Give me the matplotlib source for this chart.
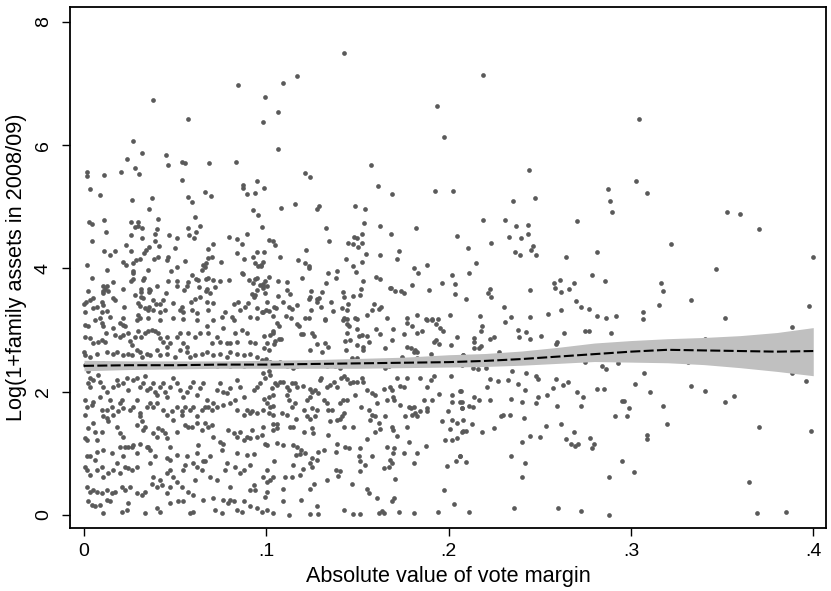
import matplotlib
matplotlib.use("Agg")
import matplotlib.pyplot as plt
import numpy as np

plt.rcParams['font.family'] = ['Liberation Sans', 'DejaVu Sans']

# (vote margin, log assets) pairs
pts_top = [
    (0.0843, 6.98), (0.1090, 7.00), (0.1167, 7.12), (0.1426, 7.50), (0.2190, 7.14),
]

# x < .1, upper part
pts_left_upper = [
    (0.0381, 6.73), (0.0573, 6.42), (0.0271, 6.06), (0.0318, 5.87), (0.0236, 5.78),
    (0.0452, 5.84), (0.0461, 5.67), (0.0278, 5.63), (0.0302, 5.53), (0.0201, 5.56),
    (0.0112, 5.52), (0.0016, 5.57), (0.0016, 5.50), (0.0538, 5.72), (0.0554, 5.71),
    (0.0686, 5.71), (0.0833, 5.73), (0.0035, 5.29), (0.0088, 5.19), (0.0262, 5.11),
    (0.0373, 5.14), (0.0359, 4.96), (0.0540, 5.43), (0.0573, 5.16), (0.0595, 5.07),
    (0.0666, 5.24), (0.0699, 5.17), (0.0611, 4.84), (0.0874, 5.36), (0.0871, 5.30),
    (0.0893, 5.20), (0.0939, 5.22), (0.0948, 5.42), (0.0926, 4.95), (0.0952, 4.86),
    (0.0027, 4.75), (0.0046, 4.72), (0.0108, 4.78), (0.0121, 4.59), (0.0042, 4.45),
    (0.0256, 4.75), (0.0280, 4.67), (0.0298, 4.75), (0.0320, 4.66), (0.0298, 4.68),
    (0.0404, 4.80), (0.0401, 4.64), (0.0391, 4.55), (0.0256, 4.54), (0.0320, 4.50),
    (0.0466, 4.54), (0.0510, 4.50), (0.0573, 4.66), (0.0576, 4.54), (0.0604, 4.50),
    (0.0615, 4.59), (0.0635, 4.69), (0.0391, 4.44), (0.0413, 4.36), (0.0498, 4.33),
    (0.0229, 4.38), (0.0260, 4.28), (0.0355, 4.34), (0.0342, 4.30), (0.0329, 4.25),
    (0.0110, 4.28), (0.0143, 4.22), (0.0170, 4.28), (0.0018, 4.05), (0.0044, 3.85),
    (0.0128, 3.97), (0.0214, 4.11), (0.0230, 4.06), (0.0267, 4.08), (0.0287, 4.14),
    (0.0307, 4.16), (0.0271, 3.95), (0.0271, 3.92), (0.0353, 3.97), (0.0384, 4.15),
    (0.0408, 4.18), (0.0459, 4.19), (0.0454, 4.13), (0.0477, 3.95), (0.0509, 4.03),
    (0.0554, 4.12), (0.0681, 4.32), (0.0706, 4.39), (0.0682, 4.17), (0.0700, 4.19),
    (0.0651, 4.05), (0.0670, 4.08), (0.0750, 4.10), (0.0798, 4.51), (0.0838, 4.48),
    (0.0867, 4.39), (0.0896, 4.55), (0.0838, 4.25), (0.0875, 4.15), (0.0926, 4.18),
    (0.0948, 4.26), (0.0939, 4.08), (0.0957, 4.04), (0.0972, 4.05), (0.0022, 3.63),
    (0.0047, 3.52), (0.0033, 3.48), (0.0011, 3.45), (0.0000, 3.43), (0.0097, 3.46),
    (0.0106, 3.41), (0.0069, 3.38), (0.0051, 3.36), (0.0005, 3.29), (0.0101, 3.30),
    (0.0124, 3.31), (0.0088, 3.19), (0.0106, 3.71), (0.0106, 3.64), (0.0115, 3.66),
    (0.0124, 3.71), (0.0133, 3.64), (0.0106, 3.60), (0.0157, 3.78), (0.0216, 3.67),
    (0.0170, 3.49), (0.0161, 3.52), (0.0221, 3.37), (0.0258, 3.79), (0.0267, 3.83),
    (0.0280, 3.57), (0.0313, 3.62), (0.0313, 3.67), (0.0313, 3.54), (0.0322, 3.52),
    (0.0329, 3.84), (0.0322, 3.82), (0.0298, 3.44), (0.0307, 3.39), (0.0355, 3.66),
    (0.0359, 3.61), (0.0362, 3.65), (0.0335, 3.35), (0.0353, 3.33), (0.0359, 3.38),
    (0.0298, 3.25), (0.0307, 3.19), (0.0399, 3.71), (0.0381, 3.49), (0.0395, 3.42),
    (0.0417, 3.43), (0.0435, 3.49), (0.0381, 3.33), (0.0417, 3.30), (0.0445, 3.33),
    (0.0450, 3.60), (0.0463, 3.79), (0.0510, 3.79), (0.0510, 3.72), (0.0490, 3.44),
    (0.0527, 3.33), (0.0536, 3.38), (0.0545, 3.29), (0.0551, 3.65), (0.0564, 3.71),
    (0.0573, 3.78), (0.0591, 3.90), (0.0615, 3.83), (0.0628, 3.82), (0.0587, 3.45),
    (0.0609, 3.50), (0.0591, 3.33), (0.0618, 3.27), (0.0633, 3.70), (0.0637, 3.54),
    (0.0670, 3.63), (0.0677, 3.66), (0.0692, 3.60), (0.0670, 3.83), (0.0682, 3.84),
    (0.0646, 3.98), (0.0664, 4.03), (0.0682, 3.33), (0.0673, 3.45), (0.0706, 3.82),
    (0.0721, 3.70), (0.0710, 3.44), (0.0746, 3.79), (0.0755, 3.22), (0.0774, 3.29),
    (0.0798, 3.81), (0.0820, 3.43), (0.0847, 3.46), (0.0865, 3.92), (0.0874, 3.91),
    (0.0856, 3.33), (0.0883, 3.38), (0.0907, 3.82), (0.0926, 3.76), (0.0939, 3.83),
    (0.0948, 3.84), (0.0920, 3.59), (0.0939, 3.57), (0.0930, 3.54), (0.0902, 3.44),
    (0.0948, 3.65), (0.0966, 3.73), (0.0981, 3.71), (0.0948, 3.35), (0.0975, 3.30),
    (0.0911, 3.22), (0.0948, 3.20), (0.0811, 3.22), (0.0820, 3.17), (0.0618, 3.17),
    (0.0545, 3.18), (0.0490, 3.19), (0.0417, 3.17), (0.0353, 3.19), (0.0289, 3.17),
    (0.0216, 3.19), (0.0143, 3.22),
]

# x < .1, lower part
pts_left_lower = [
    (0.0005, 3.08), (0.0024, 3.06), (0.0060, 3.17), (0.0097, 3.11), (0.0106, 3.06),
    (0.0005, 2.89), (0.0033, 2.87), (0.0051, 2.79), (0.0079, 2.81), (0.0097, 2.84),
    (0.0115, 2.81), (0.0121, 2.95), (0.0161, 3.03), (0.0170, 2.92), (0.0198, 3.11),
    (0.0212, 3.08), (0.0225, 3.06), (0.0198, 2.89), (0.0212, 2.92), (0.0243, 2.95),
    (0.0252, 2.83), (0.0262, 2.76), (0.0280, 2.89), (0.0298, 2.98), (0.0313, 2.89),
    (0.0335, 2.95), (0.0353, 2.98), (0.0371, 3.00), (0.0390, 2.98), (0.0408, 2.95),
    (0.0417, 2.87), (0.0435, 2.81), (0.0454, 2.89), (0.0454, 2.73), (0.0472, 2.79),
    (0.0509, 2.89), (0.0527, 2.95), (0.0545, 2.79), (0.0564, 2.73), (0.0573, 2.95),
    (0.0609, 2.89), (0.0637, 2.95), (0.0673, 3.06), (0.0682, 2.95), (0.0701, 2.79),
    (0.0710, 3.17), (0.0728, 2.89), (0.0747, 2.81), (0.0765, 3.03), (0.0783, 2.79),
    (0.0801, 2.79), (0.0829, 2.95), (0.0838, 2.81), (0.0865, 3.00), (0.0893, 2.95),
    (0.0911, 2.81), (0.0939, 2.79),
    (0.0000, 2.65), (0.0005, 2.60), (0.0033, 2.57), (0.0069, 2.62), (0.0124, 2.65),
    (0.0161, 2.62), (0.0179, 2.65), (0.0216, 2.60), (0.0243, 2.62), (0.0262, 2.60),
    (0.0289, 2.68), (0.0307, 2.65), (0.0316, 2.57), (0.0344, 2.62), (0.0362, 2.60),
    (0.0399, 2.68), (0.0417, 2.60), (0.0454, 2.62), (0.0500, 2.57), (0.0527, 2.68),
    (0.0564, 2.65), (0.0582, 2.57), (0.0609, 2.60), (0.0646, 2.62), (0.0673, 2.64),
    (0.0710, 2.60), (0.0747, 2.62), (0.0783, 2.57), (0.0801, 2.65), (0.0838, 2.62),
    (0.0875, 2.60), (0.0911, 2.62), (0.0948, 2.57),
    (0.0005, 2.44), (0.0033, 2.42), (0.0069, 2.44), (0.0106, 2.46), (0.0143, 2.41),
    (0.0179, 2.44), (0.0225, 2.45), (0.0252, 2.42), (0.0289, 2.44), (0.0335, 2.45),
    (0.0371, 2.42), (0.0399, 2.44), (0.0445, 2.41), (0.0472, 2.44), (0.0500, 2.44),
    (0.0545, 2.42), (0.0582, 2.44), (0.0618, 2.45), (0.0655, 2.41), (0.0692, 2.44),
    (0.0728, 2.42), (0.0765, 2.44), (0.0801, 2.41), (0.0838, 2.44), (0.0875, 2.41),
    (0.0911, 2.46),
    (0.0024, 2.33), (0.0033, 2.22), (0.0024, 2.14), (0.0033, 2.08), (0.0051, 2.19),
    (0.0079, 2.27), (0.0088, 2.16), (0.0106, 2.08), (0.0124, 2.00), (0.0161, 2.08),
    (0.0179, 2.19), (0.0188, 2.11), (0.0216, 2.14), (0.0234, 2.22), (0.0243, 2.03),
    (0.0271, 2.19), (0.0289, 2.22), (0.0307, 2.08), (0.0326, 2.14), (0.0335, 2.25),
    (0.0344, 2.03), (0.0362, 2.06), (0.0381, 2.14), (0.0390, 2.00), (0.0399, 1.95),
    (0.0417, 2.08), (0.0435, 2.14), (0.0445, 2.00), (0.0454, 1.92), (0.0472, 2.08),
    (0.0490, 2.22), (0.0509, 2.14), (0.0527, 2.03), (0.0545, 1.92), (0.0564, 2.00),
    (0.0582, 2.08), (0.0600, 2.16), (0.0618, 1.95), (0.0637, 2.06), (0.0655, 2.14),
    (0.0673, 1.87), (0.0682, 1.76), (0.0701, 1.70), (0.0710, 1.81), (0.0728, 2.03),
    (0.0747, 2.14), (0.0765, 2.00), (0.0783, 1.98), (0.0801, 2.06), (0.0829, 1.87),
    (0.0838, 2.19), (0.0856, 2.08), (0.0875, 1.92), (0.0893, 1.70), (0.0920, 1.68),
    (0.0930, 2.03), (0.0948, 2.08), (0.0966, 2.14),
    (0.0005, 1.87), (0.0015, 1.76), (0.0042, 1.79), (0.0051, 1.84), (0.0088, 1.92),
    (0.0097, 1.70), (0.0124, 1.70), (0.0143, 1.87), (0.0152, 1.76), (0.0161, 1.62),
    (0.0188, 1.68), (0.0198, 1.81), (0.0207, 1.87), (0.0216, 1.73), (0.0252, 1.70),
    (0.0271, 1.76), (0.0289, 1.87), (0.0307, 1.65), (0.0344, 1.76), (0.0362, 1.81),
    (0.0381, 1.76), (0.0399, 1.81), (0.0435, 1.70), (0.0454, 1.62), (0.0481, 1.68),
    (0.0509, 1.76), (0.0536, 1.68), (0.0554, 1.76), (0.0582, 1.70), (0.0600, 1.76),
    (0.0618, 1.60), (0.0646, 1.70), (0.0664, 1.76), (0.0728, 1.76), (0.0765, 1.79),
    (0.0801, 1.81), (0.0838, 1.70), (0.0875, 1.62), (0.0911, 1.65), (0.0948, 1.65),
    (0.0005, 1.62), (0.0024, 1.41), (0.0005, 1.25), (0.0015, 1.22), (0.0051, 1.49),
    (0.0060, 1.35), (0.0069, 1.22), (0.0097, 1.35), (0.0106, 1.60), (0.0124, 1.57),
    (0.0133, 1.52), (0.0179, 1.43), (0.0198, 1.33), (0.0216, 1.27), (0.0225, 1.11),
    (0.0243, 1.11), (0.0262, 1.11), (0.0271, 1.14), (0.0289, 1.46), (0.0307, 1.60),
    (0.0316, 1.52), (0.0326, 1.38), (0.0335, 1.43), (0.0344, 1.11), (0.0362, 1.06),
    (0.0381, 1.33), (0.0399, 1.27), (0.0408, 1.41), (0.0426, 1.38), (0.0445, 1.33),
    (0.0454, 1.25), (0.0472, 1.11), (0.0490, 1.54), (0.0509, 1.35), (0.0536, 1.62),
    (0.0554, 1.46), (0.0573, 1.43), (0.0591, 1.43), (0.0618, 1.49), (0.0628, 1.14),
    (0.0646, 1.38), (0.0664, 1.49), (0.0682, 1.43), (0.0701, 1.46), (0.0710, 1.27),
    (0.0747, 1.19), (0.0765, 1.16), (0.0792, 1.38), (0.0820, 1.33), (0.0838, 1.27),
    (0.0856, 1.35), (0.0875, 1.22), (0.0893, 1.27), (0.0911, 1.25), (0.0920, 1.38),
    (0.0948, 1.27),
    (0.0015, 0.95), (0.0033, 0.95), (0.0069, 1.03), (0.0106, 1.06), (0.0152, 1.00),
    (0.0198, 1.11), (0.0216, 0.95), (0.0289, 1.00), (0.0307, 1.16), (0.0353, 1.11),
    (0.0390, 0.95), (0.0454, 0.92), (0.0472, 0.89), (0.0509, 0.97), (0.0564, 0.95),
    (0.0618, 1.00), (0.0655, 0.87), (0.0692, 0.95), (0.0756, 1.06), (0.0783, 0.84),
    (0.0838, 1.00), (0.0893, 0.97), (0.0930, 0.99),
    (0.0005, 0.78), (0.0015, 0.73), (0.0033, 0.65), (0.0060, 0.89), (0.0069, 0.73),
    (0.0097, 0.78), (0.0106, 0.62), (0.0133, 0.68), (0.0161, 0.73), (0.0179, 0.84),
    (0.0198, 0.68), (0.0225, 0.78), (0.0243, 0.76), (0.0262, 0.73), (0.0289, 0.78),
    (0.0362, 0.84), (0.0371, 0.51), (0.0381, 0.62), (0.0417, 0.57), (0.0426, 0.49),
    (0.0454, 0.68), (0.0472, 0.73), (0.0490, 0.62), (0.0545, 0.73), (0.0554, 0.81),
    (0.0600, 0.84), (0.0609, 0.57), (0.0618, 0.78), (0.0646, 0.73), (0.0664, 0.87),
    (0.0692, 0.62), (0.0728, 0.57), (0.0774, 0.73), (0.0801, 0.46), (0.0829, 0.78),
    (0.0856, 0.68), (0.0875, 0.73), (0.0911, 0.81), (0.0930, 0.49), (0.0939, 0.41),
    (0.0015, 0.46), (0.0033, 0.38), (0.0051, 0.41), (0.0069, 0.38), (0.0097, 0.35),
    (0.0124, 0.41), (0.0152, 0.35), (0.0170, 0.38), (0.0207, 0.46), (0.0225, 0.41),
    (0.0252, 0.46), (0.0289, 0.35), (0.0335, 0.38), (0.0399, 0.46), (0.0454, 0.35),
    (0.0472, 0.46), (0.0509, 0.54), (0.0536, 0.46), (0.0573, 0.38), (0.0600, 0.33),
    (0.0655, 0.24), (0.0710, 0.27), (0.0765, 0.24), (0.0792, 0.19), (0.0820, 0.22),
    (0.0875, 0.22), (0.0911, 0.41),
    (0.0024, 0.22), (0.0042, 0.16), (0.0060, 0.14), (0.0088, 0.16), (0.0106, 0.03),
    (0.0124, 0.24), (0.0143, 0.22), (0.0207, 0.05), (0.0234, 0.08), (0.0243, 0.19),
    (0.0316, 0.33), (0.0335, 0.03), (0.0399, 0.11), (0.0417, 0.05), (0.0472, 0.19),
    (0.0518, 0.22), (0.0545, 0.22), (0.0582, 0.03), (0.0600, 0.05), (0.0719, 0.08),
    (0.0756, 0.03), (0.0801, 0.24), (0.0838, 0.08), (0.0865, 0.05), (0.0911, 0.14),
    (0.0948, 0.11),
]

# .1 < x < .2, upper part
pts_mid_upper = [
    (0.0995, 6.78), (0.1062, 6.54), (0.0980, 6.37), (0.1064, 5.94), (0.1938, 6.63),
    (0.1977, 6.13), (0.1214, 5.55), (0.1240, 5.49), (0.1573, 5.67), (0.0986, 5.30),
    (0.1613, 5.33), (0.1688, 5.21), (0.1927, 5.25), (0.2026, 5.26), (0.1079, 4.98),
    (0.1159, 5.04), (0.1280, 4.97), (0.1291, 5.01), (0.1485, 5.02), (0.1540, 4.97),
    (0.0978, 4.67), (0.1328, 4.65), (0.1534, 4.74), (0.1626, 4.68), (0.1823, 4.66),
    (0.2044, 4.53), (0.1013, 4.46), (0.1035, 4.44), (0.1050, 4.38), (0.1346, 4.45),
    (0.1479, 4.51), (0.1496, 4.50), (0.1523, 4.56), (0.1450, 4.42), (0.1476, 4.39),
    (0.1501, 4.35), (0.1523, 4.42), (0.1682, 4.56), (0.0989, 4.26), (0.0984, 4.11),
    (0.0971, 4.04), (0.1073, 4.18), (0.1176, 4.13), (0.1211, 4.09), (0.1220, 4.30),
    (0.1234, 4.04), (0.1236, 4.01), (0.1437, 4.16), (0.1476, 4.04), (0.1523, 4.11),
    (0.1547, 4.23), (0.1624, 4.22), (0.1726, 4.28), (0.1715, 4.16), (0.1879, 4.05),
    (0.1808, 4.01), (0.1832, 3.92), (0.2020, 3.89), (0.1336, 3.93), (0.1388, 3.95),
    (0.1492, 3.94), (0.1382, 3.85), (0.1198, 3.85), (0.1015, 3.86), (0.0995, 3.79),
    (0.0982, 3.75), (0.1002, 3.72), (0.0980, 3.69), (0.1066, 3.80), (0.1112, 3.78),
    (0.1325, 3.76), (0.1532, 3.80), (0.1602, 3.86), (0.1622, 3.83), (0.1679, 3.69),
    (0.1684, 3.69), (0.1708, 3.63), (0.1741, 3.63), (0.1754, 3.60), (0.1797, 3.73),
    (0.1965, 3.76), (0.2037, 3.75), (0.1894, 3.65), (0.2037, 3.59), (0.0993, 3.60),
    (0.1064, 3.56), (0.1115, 3.65), (0.1132, 3.59), (0.1244, 3.64), (0.1308, 3.62),
    (0.1232, 3.50), (0.1240, 3.54), (0.1280, 3.51), (0.1291, 3.52), (0.1276, 3.45),
    (0.1298, 3.38), (0.1423, 3.62), (0.1428, 3.54), (0.1477, 3.56), (0.1514, 3.57),
    (0.1521, 3.66), (0.1353, 3.45), (0.1450, 3.43), (0.1591, 3.43), (0.1006, 3.45),
    (0.1092, 3.46), (0.1041, 3.37), (0.1055, 3.36), (0.1126, 3.37), (0.1139, 3.34),
    (0.1168, 3.40), (0.1244, 3.33), (0.1368, 3.31), (0.1417, 3.35), (0.1444, 3.32),
    (0.1578, 3.33), (0.1620, 3.34), (0.1629, 3.38), (0.0982, 3.29), (0.0998, 3.32),
    (0.1015, 3.31), (0.1039, 3.23), (0.1108, 3.23), (0.1136, 3.19), (0.1214, 3.20),
    (0.1236, 3.20), (0.1324, 3.18), (0.1424, 3.20), (0.1444, 3.18), (0.1485, 3.19),
    (0.1499, 3.18), (0.1551, 3.24), (0.1660, 3.20), (0.1770, 3.20), (0.1827, 3.25),
    (0.1876, 3.18), (0.1907, 3.18), (0.1940, 3.18), (0.2008, 3.24),
]

# .1 < x < .2, lower part
pts_mid_lower = [
    (0.1061, 3.11), (0.1072, 3.07), (0.1036, 2.99), (0.1021, 2.92), (0.0988, 2.91),
    (0.1039, 2.95), (0.1048, 2.83), (0.1067, 2.86), (0.1079, 2.85), (0.1006, 2.79),
    (0.1043, 2.78), (0.0990, 2.71), (0.1012, 2.67), (0.1167, 3.10), (0.1182, 3.07),
    (0.1200, 2.94), (0.1189, 2.94), (0.1250, 2.96), (0.1259, 2.91), (0.1241, 2.67),
    (0.1323, 3.17), (0.1420, 3.17), (0.1442, 3.10), (0.1451, 3.07), (0.1445, 2.95),
    (0.1497, 3.01), (0.1506, 2.91), (0.1524, 2.92), (0.1552, 2.91), (0.1561, 2.81),
    (0.1533, 2.73), (0.1530, 2.68), (0.1497, 2.76), (0.1460, 2.84), (0.1429, 2.82),
    (0.1438, 2.67), (0.1323, 2.79), (0.1341, 2.73), (0.1305, 2.64), (0.1277, 2.78),
    (0.1603, 3.01), (0.1625, 2.94), (0.1652, 2.71), (0.1689, 2.84), (0.1694, 3.01),
    (0.1757, 2.93), (0.1771, 3.11), (0.1799, 3.07), (0.1826, 2.95), (0.1854, 2.98),
    (0.1881, 3.17), (0.1908, 3.16), (0.1932, 3.10), (0.1954, 3.03), (0.1967, 2.98),
    (0.1918, 2.81), (0.1932, 2.84), (0.1945, 2.78), (0.2015, 2.75), (0.2046, 2.88),
    (0.1903, 2.62), (0.1817, 2.68), (0.1808, 2.65), (0.1793, 2.71), (0.1826, 2.65),
    (0.1771, 2.73), (0.1749, 2.53),
    (0.0975, 2.52), (0.0999, 2.53), (0.1021, 2.49), (0.1048, 2.46), (0.1076, 2.49),
    (0.1094, 2.44), (0.1112, 2.41), (0.1149, 2.38), (0.1167, 2.41), (0.1204, 2.44),
    (0.1259, 2.47), (0.1295, 2.49), (0.1332, 2.41), (0.1378, 2.41), (0.1405, 2.38),
    (0.1424, 2.46), (0.1469, 2.54), (0.1497, 2.54), (0.1515, 2.46), (0.1552, 2.46),
    (0.1597, 2.47), (0.1625, 2.49), (0.1652, 2.39), (0.1671, 2.41), (0.1698, 2.46),
    (0.1744, 2.56), (0.1771, 2.52), (0.1826, 2.54), (0.1844, 2.46), (0.1918, 2.49),
    (0.1982, 2.52), (0.2009, 2.46), (0.2079, 2.60),
    (0.0984, 2.30), (0.0993, 2.22), (0.1012, 2.33), (0.1021, 2.27), (0.1030, 2.06),
    (0.1048, 2.14), (0.1061, 2.11), (0.1076, 2.16), (0.1090, 2.15), (0.1112, 2.07),
    (0.1122, 2.03), (0.1140, 2.14), (0.1158, 2.14), (0.1167, 2.08), (0.1200, 2.09),
    (0.1241, 2.04), (0.1250, 2.00), (0.1268, 2.03), (0.1286, 1.98), (0.1299, 2.23),
    (0.1295, 2.19), (0.1332, 2.07), (0.1350, 2.11), (0.1369, 2.16), (0.1387, 2.08),
    (0.1411, 2.22), (0.1424, 2.25), (0.1442, 2.20), (0.1460, 2.14), (0.1478, 2.15),
    (0.1497, 2.16), (0.1524, 2.22), (0.1533, 2.16), (0.1552, 2.03), (0.1579, 1.98),
    (0.1597, 1.95), (0.1643, 2.04), (0.1680, 2.08), (0.1689, 2.03), (0.1716, 2.22),
    (0.1731, 2.09), (0.1757, 2.08), (0.1771, 2.22), (0.1841, 2.22), (0.1881, 2.08),
    (0.1903, 2.19), (0.1918, 2.25), (0.1949, 1.96), (0.2015, 2.25), (0.2018, 1.95),
    (0.2064, 2.01),
    (0.0988, 1.89), (0.1012, 1.92), (0.1039, 1.95), (0.1003, 1.81), (0.1021, 1.76),
    (0.1036, 1.77), (0.1112, 1.95), (0.1122, 1.87), (0.1140, 1.76), (0.1158, 1.81),
    (0.1204, 1.70), (0.1222, 1.87), (0.1237, 1.92), (0.1250, 1.73), (0.1277, 1.70),
    (0.1314, 1.87), (0.1332, 1.81), (0.1341, 1.70), (0.1359, 1.70), (0.1405, 1.81),
    (0.1420, 1.87), (0.1442, 1.87), (0.1488, 1.95), (0.1520, 1.75), (0.1561, 1.70),
    (0.1607, 1.81), (0.1661, 1.87), (0.1694, 1.92), (0.1698, 1.87), (0.1735, 1.79),
    (0.1780, 1.76), (0.1793, 1.73), (0.1808, 1.76), (0.1817, 1.65), (0.1841, 1.68),
    (0.1863, 1.87), (0.1881, 1.73), (0.1881, 1.68), (0.1908, 1.87), (0.1996, 1.68),
    (0.2018, 1.84), (0.2064, 1.84), (0.2073, 1.73),
    (0.0984, 1.70), (0.1012, 1.65), (0.1039, 1.62), (0.1085, 1.65), (0.1112, 1.62),
    (0.1164, 1.56), (0.1222, 1.60), (0.1237, 1.55), (0.1268, 1.60), (0.1350, 1.52),
    (0.1387, 1.54), (0.1405, 1.56), (0.1414, 1.60), (0.1427, 1.65), (0.1579, 1.62),
    (0.1597, 1.60), (0.1570, 1.54), (0.1616, 1.49), (0.1652, 1.61), (0.1762, 1.60),
    (0.1799, 1.62), (0.1826, 1.60), (0.1963, 1.52), (0.2018, 1.54), (0.2046, 1.49),
    (0.2073, 1.35),
    (0.0981, 1.43), (0.1039, 1.48), (0.1058, 1.48), (0.1036, 1.38), (0.1058, 1.41),
    (0.1131, 1.42), (0.1149, 1.42), (0.1204, 1.34), (0.1253, 1.41), (0.1255, 1.33),
    (0.1341, 1.30), (0.1424, 1.43), (0.1475, 1.42), (0.1597, 1.34), (0.1621, 1.40),
    (0.1689, 1.43), (0.1694, 1.38), (0.1716, 1.29), (0.1771, 1.43), (0.2009, 1.39),
    (0.2046, 1.25),
    (0.0975, 1.30), (0.0993, 1.16), (0.1003, 1.14), (0.1058, 1.17), (0.1090, 1.13),
    (0.1149, 1.14), (0.1167, 1.11), (0.1164, 0.97), (0.1186, 0.99), (0.1213, 1.00),
    (0.1189, 1.06), (0.1250, 0.92), (0.1277, 0.89), (0.1286, 1.03), (0.1314, 1.06),
    (0.1387, 1.15), (0.1383, 1.03), (0.1433, 1.11), (0.1451, 1.08), (0.1515, 1.08),
    (0.1552, 1.23), (0.1506, 0.96), (0.1515, 0.87), (0.1542, 0.81), (0.1579, 0.96),
    (0.1661, 1.11), (0.1698, 1.08), (0.1694, 1.00), (0.1680, 0.90), (0.1689, 0.84),
    (0.1671, 0.78), (0.1647, 0.77), (0.1753, 1.00), (0.1780, 1.19), (0.1826, 1.00),
    (0.1808, 0.85), (0.1877, 1.12), (0.1982, 1.21), (0.2018, 1.21), (0.2060, 0.95),
    (0.2042, 0.88), (0.1991, 0.80),
    (0.1003, 0.73), (0.1043, 0.87), (0.0984, 0.62), (0.1003, 0.54), (0.1021, 0.57),
    (0.1036, 0.61), (0.1103, 0.62), (0.1140, 0.62), (0.1149, 0.81), (0.1186, 0.65),
    (0.1200, 0.74), (0.1241, 0.84), (0.1250, 0.78), (0.1241, 0.43), (0.1259, 0.50),
    (0.1332, 0.57), (0.1383, 0.73), (0.1405, 0.72), (0.1391, 0.63), (0.1469, 0.51),
    (0.1515, 0.72), (0.1552, 0.43), (0.1561, 0.35), (0.1707, 0.58), (0.1607, 0.28),
    (0.1689, 0.22), (0.1698, 0.27), (0.1973, 0.41), (0.2027, 0.18),
    (0.0975, 0.05), (0.1003, 0.09), (0.1039, 0.03), (0.1090, 0.22), (0.1122, 0.00),
    (0.1189, 0.24), (0.1241, 0.02), (0.1277, 0.15), (0.1286, 0.01), (0.1424, 0.08),
    (0.1478, 0.02), (0.1515, 0.01), (0.1616, 0.03), (0.1634, 0.07), (0.1643, 0.03),
    (0.1727, 0.05), (0.1808, 0.03), (0.1940, 0.05), (0.1006, 0.38), (0.1094, 0.43),
    (0.0993, 0.30),
]

# x > .2
pts_right = [
    (0.3043, 6.43), (0.2439, 5.60), (0.2352, 5.10), (0.2472, 5.15), (0.2874, 5.28),
    (0.2885, 5.09), (0.2895, 4.91), (0.3028, 5.42), (0.3088, 5.23), (0.2189, 4.79),
    (0.2309, 4.78), (0.2368, 4.69), (0.2434, 4.71), (0.2704, 4.77), (0.2331, 4.51),
    (0.2399, 4.50), (0.2434, 4.56), (0.2233, 4.42), (0.2106, 4.33), (0.2465, 4.37),
    (0.2450, 4.30), (0.2362, 4.27), (0.2390, 4.22), (0.2478, 4.22), (0.2642, 4.19),
    (0.2812, 4.27), (0.3222, 4.39), (0.3525, 4.91), (0.3597, 4.88), (0.3703, 4.64),
    (0.3996, 4.19), (0.3465, 3.99), (0.2149, 4.09), (0.2112, 3.92), (0.2785, 3.90),
    (0.2860, 3.80), (0.2577, 3.77), (0.2609, 3.82), (0.2688, 3.76), (0.2582, 3.69),
    (0.2660, 3.67), (0.2617, 3.62), (0.3167, 3.77), (0.3178, 3.63), (0.2227, 3.66),
    (0.2218, 3.60), (0.2231, 3.54), (0.2095, 3.50), (0.2448, 3.65), (0.3328, 3.49),
    (0.2701, 3.47), (0.2726, 3.37), (0.2770, 3.34), (0.2618, 3.33), (0.2304, 3.38),
    (0.3152, 3.40), (0.3979, 3.39), (0.3064, 3.29), (0.2544, 3.26), (0.2174, 3.23),
    (0.2341, 3.22), (0.2448, 3.21), (0.2812, 3.23), (0.2863, 3.20), (0.2916, 3.23),
    (0.3066, 3.18), (0.3514, 3.20),
    (0.2185, 3.06), (0.2178, 2.99), (0.2308, 3.13), (0.2383, 3.00), (0.2425, 2.97),
    (0.2633, 2.96), (0.2748, 2.98), (0.2770, 2.98), (0.2889, 2.95), (0.3882, 3.05),
    (0.2137, 2.87), (0.2139, 2.81), (0.2137, 2.71), (0.2167, 2.71), (0.2179, 2.74),
    (0.2229, 2.86), (0.2247, 2.89), (0.2384, 2.88), (0.2447, 2.86), (0.2505, 2.90),
    (0.2591, 2.78), (0.2596, 2.80), (0.2895, 2.73), (0.2981, 2.77), (0.3408, 2.85),
    (0.3465, 2.79), (0.3529, 2.73), (0.3604, 2.82), (0.2275, 2.64), (0.2077, 2.60),
    (0.3657, 2.57), (0.3101, 2.69), (0.2099, 2.49), (0.2158, 2.52), (0.2134, 2.39),
    (0.2160, 2.37), (0.2205, 2.39), (0.2072, 2.43), (0.2587, 2.53), (0.2748, 2.48),
    (0.2777, 2.59), (0.2840, 2.41), (0.2863, 2.37), (0.2927, 2.46), (0.3074, 2.56),
    (0.3313, 2.48), (0.3898, 2.41), (0.3884, 2.31), (0.2346, 2.34), (0.2425, 2.31),
    (0.3074, 2.31), (0.2478, 2.25), (0.2492, 2.21), (0.2229, 2.20), (0.2269, 2.18),
    (0.2328, 2.19), (0.2383, 2.13), (0.2628, 2.11), (0.2589, 2.21), (0.2657, 2.16),
    (0.2573, 2.06), (0.2211, 2.07), (0.2417, 2.02), (0.3959, 2.18), (0.3022, 2.12),
    (0.3330, 2.10), (0.3408, 2.01), (0.2703, 1.99), (0.2812, 2.05), (0.2854, 2.05),
    (0.3107, 1.99), (0.2066, 2.01), (0.2139, 1.92), (0.2165, 1.86), (0.2227, 1.87),
    (0.2342, 1.88), (0.2401, 1.84), (0.2490, 1.91), (0.2538, 1.94), (0.2736, 1.91),
    (0.2479, 1.81), (0.2593, 1.77), (0.2725, 1.77), (0.2949, 1.85), (0.2961, 1.85),
    (0.2991, 1.73), (0.3178, 1.77), (0.3514, 1.84), (0.3566, 1.93), (0.2072, 1.84),
    (0.2110, 1.77), (0.2132, 1.75), (0.2074, 1.74), (0.2286, 1.61), (0.2300, 1.62),
    (0.2337, 1.63), (0.2412, 1.58), (0.2911, 1.61), (0.2979, 1.60), (0.2081, 1.54),
    (0.2130, 1.48), (0.2079, 1.36), (0.2095, 1.36), (0.2182, 1.35), (0.2251, 1.41),
    (0.2534, 1.45), (0.2617, 1.47), (0.3196, 1.47), (0.3703, 1.42), (0.3990, 1.36),
    (0.2447, 1.28), (0.2500, 1.27), (0.2688, 1.34), (0.2642, 1.23), (0.2673, 1.16),
    (0.2692, 1.12), (0.2710, 1.16), (0.2777, 1.25), (0.2796, 1.15), (0.2788, 1.08),
    (0.3086, 1.30), (0.3086, 1.23), (0.2401, 1.19), (0.2063, 0.96), (0.2097, 0.86),
    (0.2341, 0.95), (0.2419, 0.84), (0.2949, 0.87), (0.3017, 0.70), (0.2401, 0.61),
    (0.2882, 0.62), (0.3648, 0.54), (0.2112, 0.05), (0.2360, 0.11), (0.2600, 0.12),
    (0.2728, 0.07), (0.2882, 0.00), (0.3690, 0.03), (0.3851, 0.05),
]

# local fit and its confidence band
fit_x = [0.00, 0.025, 0.05, 0.075, 0.10, 0.125, 0.15, 0.175, 0.20, 0.22,
         0.24, 0.26, 0.28, 0.30, 0.32, 0.34, 0.36, 0.38, 0.40]
fit_y = [2.42, 2.43, 2.43, 2.44, 2.44, 2.45, 2.46, 2.47, 2.48, 2.50,
         2.53, 2.57, 2.61, 2.65, 2.68, 2.67, 2.66, 2.65, 2.66]
fit_lo = [2.34, 2.36, 2.37, 2.38, 2.38, 2.38, 2.38, 2.39, 2.40, 2.41,
          2.43, 2.46, 2.49, 2.48, 2.47, 2.44, 2.39, 2.33, 2.26]
fit_hi = [2.51, 2.50, 2.50, 2.50, 2.51, 2.52, 2.54, 2.56, 2.60, 2.62,
          2.66, 2.72, 2.79, 2.83, 2.86, 2.88, 2.91, 2.96, 3.04]

pts = np.array(pts_top + pts_left_upper + pts_left_lower + pts_mid_upper
               + pts_mid_lower + pts_right)
margin = pts[:, 0]
assets = pts[:, 1]

fig = plt.figure(figsize=(8.31, 5.91), dpi=100)
ax = fig.add_axes([0.0842, 0.1066, 0.9098, 0.8816])

ax.plot(margin, assets, 'o', color='#5a5a5a', ms=3.4, mew=0, zorder=2)
ax.fill_between(fit_x, fit_lo, fit_hi, color='#c0c0c0', lw=0, zorder=3)
ax.plot(fit_x, fit_y, color='black', lw=1.5, linestyle=(0, (4.8, 1.6)), zorder=4)

ax.set_xlim(-0.0077, 0.407)
ax.set_ylim(-0.21, 8.24)
ax.set_xticks([0, 0.1, 0.2, 0.3, 0.4])
ax.set_xticklabels(['0', '.1', '.2', '.3', '.4'])
ax.set_yticks([0, 2, 4, 6, 8])
ax.set_yticklabels(['0', '2', '4', '6', '8'], rotation=90, va='center')
ax.tick_params(direction='out', length=6, width=1, labelsize=14)
ax.tick_params(axis='y', pad=7)
ax.tick_params(axis='x', pad=5)
for s in ax.spines.values():
    s.set_linewidth(1.3)

ax.set_xlabel('Absolute value of vote margin', fontsize=15.6, labelpad=4)
ax.set_ylabel('Log(1+family assets in 2008/09)', fontsize=15.6, labelpad=6)

fig.savefig('out.png', dpi=100)
